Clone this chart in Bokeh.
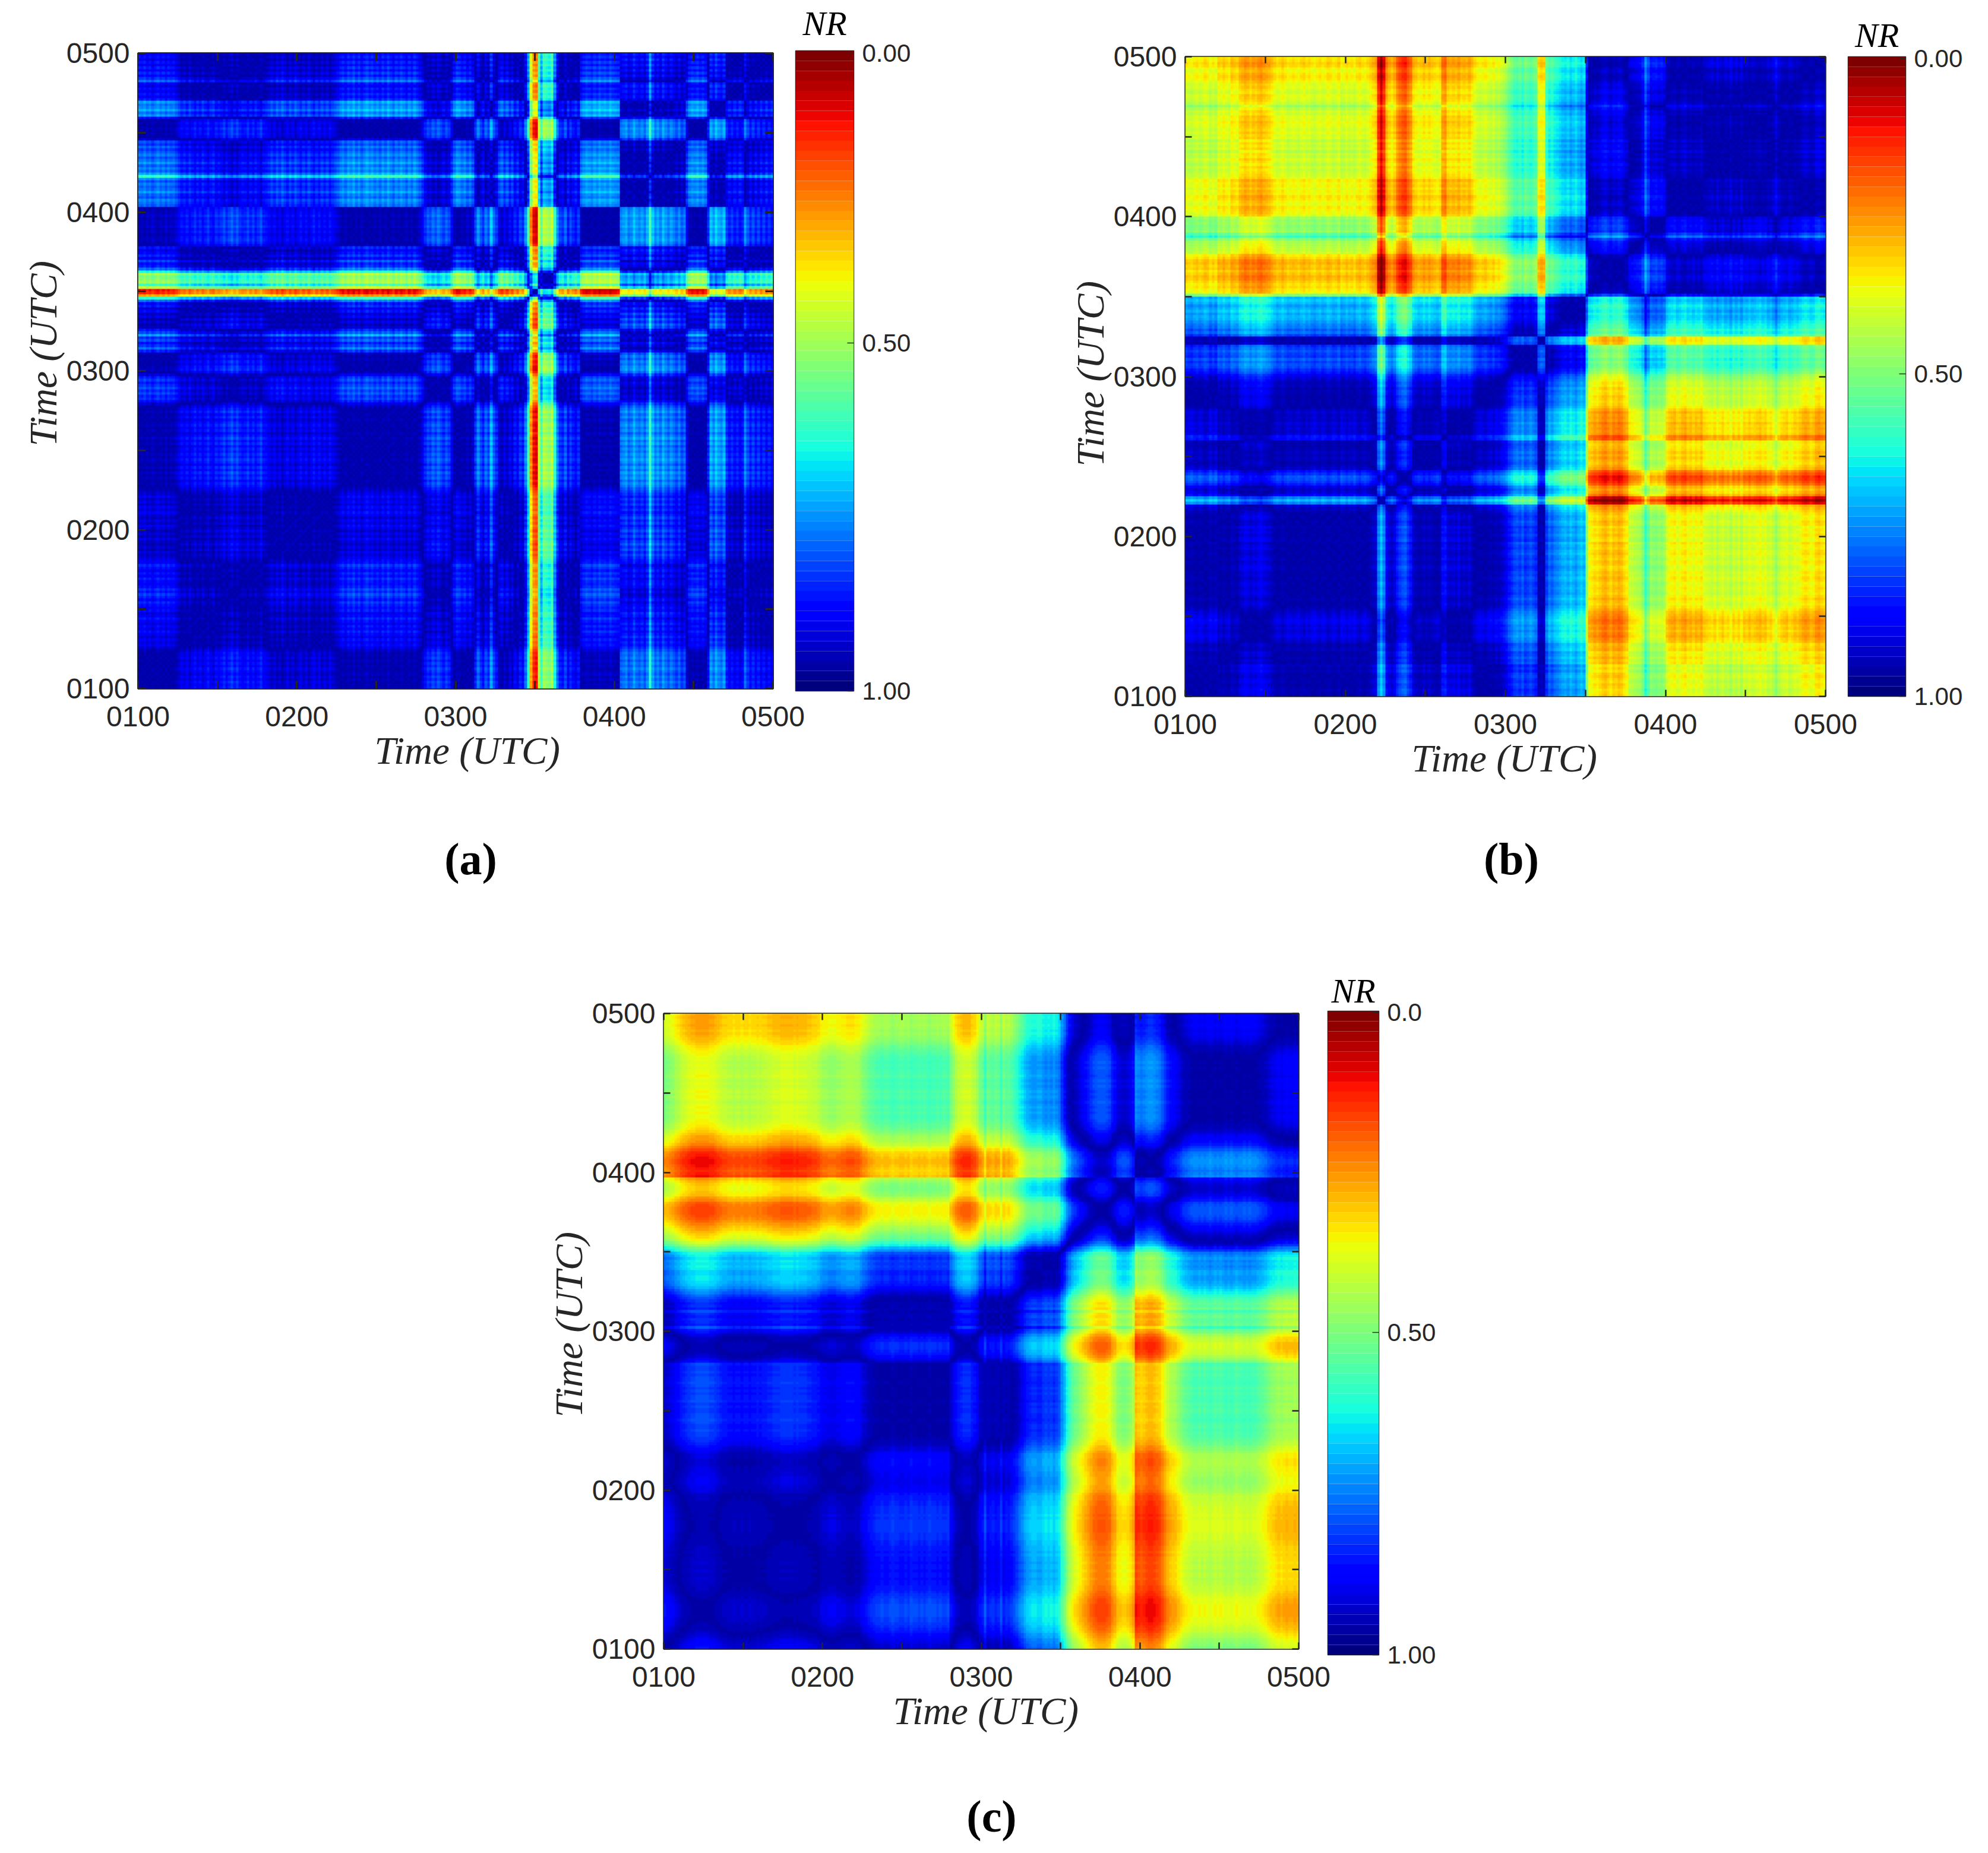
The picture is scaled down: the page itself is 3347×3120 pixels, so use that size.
import numpy as np
from bokeh.embed import file_html
from bokeh.resources import INLINE
from bokeh.plotting import figure
from bokeh.layouts import column, row
from bokeh.models import (LinearAxis, FixedTicker, LinearColorMapper, Label, Range1d, Title)

# Hour labels and half-hour ticks, in minutes of the day
hour_ticks = [60, 120, 180, 240, 300]
half_ticks = [90, 150, 210, 270]
hour_labels = ["0100", "0200", "0300", "0400", "0500"]

# Per-minute state values:
# a map cell's colour position is the distance between the states of its row and column.
state_a = [
 .05,.06,.04,.07,.05,.08,.06,.04,.07,.05, .08,.05,.07,.06,.09,.12,.15,.13,.16,.12,
 .15,.18,.14,.17,.13,.16,.19,.15,.13,.18, .16,.18,.21,.17,.20,.23,.19,.22,.18,.16,
 .17,.20,.16,.19,.15,.18,.21,.16,.15,.13, .10,.13,.09,.12,.08,.11,.14,.10,.13,.09,
 .12,.15,.11,.14,.10,.13,.16,.12,.15,.11, .14,.11,.15,.12,.10,.08,.05,.03,.06,.02,
 .04,.01,.05,.02,.06,.03,.01,.04,.02,.05, .03,.06,.02,.05,.01,.04,.07,.03,.05,.02,
 .04,.07,.03,.06,.02,.05,.08,.12,.18,.22, .20,.24,.21,.25,.22,.19,.23,.20,.13,.06,
 .02,.03,.06,.04,.08,.05,.09,.20,.28,.22, .18,.25,.21,.33,.24,.19,.10,.07,.12,.08,
 .14,.10,.17,.13,.20,.17,.28,.44,.75,.88, .90,.60,.46,.57,.55,.53,.58,.42,.28,.20,
 .18,.24,.15,.21,.17,.14,.19,.06,.03,.01, .02,.04,.01,.03,.00,.02,.01,.03,.00,.02,
 .03,.04,.26,.28,.30,.25,.27,.32,.28,.26, .29,.25,.31,.44,.33,.27,.30,.26,.32,.28,
 .25,.29,.26,.23,.27,.22,.25,.12,.05,.03, .04,.02,.05,.03,.06,.18,.32,.28,.34,.30,
 .28,.32,.20,.16,.19,.15,.18,.14,.17,.28, .22,.17,.21,.16,.20,.15,.19,.14,.18,.15,
]
state_b = [
 .05,.06,.07,.05,.04,.06,.05,.03,.04,.07, .05,.07,.02,.03,.01,.03,.04,.00,.01,.02,
 -.02,-.03,-.05,-.04,-.02,-.04,-.03,-.05,-.06,-.04, -.03,-.02,.00,.02,.04,.03,.01,.03,.05,.04,
 .03,.04,.05,.03,.02,.04,.03,.05,.06,.04, .03,.05,.04,.02,.03,.05,.04,.02,.06,.05,
 .03,.05,.04,.06,.03,.02,.04,.05,.03,.01, -.01,-.03,-.20,-.26,-.20,-.07,-.03,-.01,-.04,-.10,
 -.13,-.15,-.16,-.12,-.09,-.02,.00,.02,.01,-.01, .01,-.01,.01,.02,.03,.01,-.08,-.09,-.03,-.02,
 -.03,-.02,-.04,-.01,-.02,-.01,-.03,.00,.03,.05, .06,.05,.04,.06,.07,.05,.08,.07,.09,.11,
 .13,.17,.19,.22,.23,.21,.24,.20,.21,.23, .21,.19,.03,.01,.02,.21,.26,.24,.27,.28,
 .30,.32,.33,.31,.34,.32,.30,.33,.35,.33, .52,.65,.66,.68,.67,.69,.71,.72,.70,.68,
 .71,.70,.72,.71,.68,.66,.60,.59,.58,.57, .56,.52,.42,.48,.54,.53,.52,.54,.53,.55,
 .62,.64,.65,.66,.63,.64,.66,.67,.64,.65, .63,.65,.64,.66,.62,.61,.60,.59,.61,.58,
 .60,.62,.59,.60,.57,.61,.59,.61,.58,.62, .61,.63,.61,.62,.63,.64,.62,.63,.60,.61,
 .58,.54,.59,.61,.62,.63,.60,.61,.63,.62, .64,.66,.67,.66,.64,.65,.68,.69,.67,.66,
]
state_c = [
 .13,.12,.11,.10,.08,.07,.05,.04,.03,.02, .01,.01,.00,.00,.00,.00,.00,.01,.01,.02,
 .03,.04,.05,.05,.06,.06,.07,.06,.06,.07, .06,.06,.07,.06,.06,.05,.06,.05,.05,.04,
 .04,.03,.03,.03,.02,.02,.02,.02,.02,.03, .02,.03,.03,.03,.04,.04,.05,.05,.06,.08,
 .09,.09,.10,.10,.10,.09,.09,.08,.08,.07, .07,.07,.08,.08,.10,.12,.13,.15,.16,.17,
 .18,.18,.19,.18,.18,.19,.20,.19,.19,.18, .18,.19,.18,.20,.19,.19,.18,.19,.18,.19,
 .20,.19,.19,.18,.19,.18,.18,.19,.13,.10, .07,.05,.04,.03,.03,.03,.05,.06,.09,.13,
 .15,.21,.15,.16,.17,.15,.16,.20,.15,.17, .16,.18,.20,.22,.25,.27,.30,.32,.33,.34,
 .34,.33,.33,.35,.36,.35,.36,.34,.36,.38, .44,.48,.54,.58,.62,.64,.66,.68,.70,.72,
 .74,.76,.78,.79,.80,.80,.80,.79,.78,.74, .72,.68,.67,.66,.66,.67,.69,.72,.85,.84,
 .83,.84,.85,.86,.86,.85,.84,.83,.80,.77, .74,.72,.71,.70,.68,.66,.64,.63,.62,.61,
 .60,.60,.61,.60,.61,.60,.59,.60,.61,.60, .61,.60,.59,.60,.59,.60,.61,.60,.60,.59,
 .60,.59,.60,.60,.61,.62,.63,.64,.66,.67, .68,.69,.70,.69,.70,.71,.70,.70,.71,.70,
]

bar_ticks_a = {"0.00": 0.004, "0.50": 0.456, "1.00": 1.0}
bar_ticks_b = {"0.00": 0.003, "0.50": 0.496, "1.00": 1.0}
bar_ticks_c = {"0.0": 0.002, "0.50": 0.499, "1.00": 1.0}

INK = "#262626"
SANS = "Liberation Sans"
SERIF = "Liberation Serif"

def jet(n):
    x = np.linspace(0, 1, n)
    r = np.interp(x, [0, .35, .66, .89, 1], [0, 0, 1, 1, .5])
    g = np.interp(x, [0, .125, .375, .64, .91, 1], [0, 0, 1, 1, 0, 0])
    b = np.interp(x, [0, .11, .34, .65, 1], [.5, 1, 1, 0, 0])
    return ["#%02x%02x%02x" % (int(a*255), int(c*255), int(d*255)) for a, c, d in zip(r, g, b)]

JET = jet(64)

def nr_matrix(state):
    s = np.array(state, dtype=float)
    d = np.abs(s[:, None] - s[None, :])
    return np.clip(1 - np.sqrt(0.045 ** 2 + (1.05 * d) ** 2), 0, 1)

def panel(state, frame_w, frame_h, top, left, right, bottom, lw, tick, lift, x_off, y_off):
    p = figure(frame_width=frame_w, frame_height=frame_h, min_border_left=left, min_border_right=right,
               min_border_top=top, min_border_bottom=bottom, output_backend="svg", toolbar_location=None,
               x_range=Range1d(60, 300), y_range=Range1d(60, 300))
    p.width = frame_w + left + right
    p.height = frame_h + top + bottom
    p.margin = (-lift, 0, 0, 0)
    mapper = LinearColorMapper(palette=JET[::-1], low=0, high=1)
    p.image(image=[nr_matrix(state)], x=60, y=60, dw=240, dh=240, color_mapper=mapper)
    p.grid.visible = False
    p.outline_line_color = INK
    p.outline_line_width = lw
    p.add_layout(LinearAxis(), "above")
    p.add_layout(LinearAxis(), "right")
    for ax in p.axis:
        ax.ticker = FixedTicker(ticks=hour_ticks, minor_ticks=half_ticks)
        ax.major_label_overrides = dict(zip(hour_ticks, hour_labels))
        ax.major_tick_in = tick; ax.major_tick_out = 0
        ax.minor_tick_in = tick; ax.minor_tick_out = 0
        ax.major_tick_line_color = INK; ax.minor_tick_line_color = INK
        ax.major_tick_line_width = lw; ax.minor_tick_line_width = lw
        ax.axis_line_color = None
        ax.major_label_text_font = SANS
        ax.major_label_text_font_size = "48px"
        ax.major_label_text_color = INK
    for ax in list(p.above) + list(p.right):
        ax.major_label_text_font_size = "0px"
        ax.major_label_text_color = None
        ax.major_label_standoff = 0
    p.below[0].major_label_standoff = 30
    p.left[0].major_label_standoff = 14
    p.left[0].major_label_orientation = "horizontal"
    for where, off in (("below", x_off), ("left", y_off)):
        p.add_layout(Title(text="Time (UTC)", align="left", offset=off, standoff=0, text_font=SERIF,
                           text_font_style="italic", text_font_size="65px", text_color=INK), where)
    return p

def colour_bar(ticks, frame_w, frame_h, top, right, bottom, name_gap, overlap, lift):
    p = figure(frame_width=frame_w, frame_height=frame_h, min_border_left=2, min_border_right=right,
               min_border_top=top, min_border_bottom=bottom, output_backend="svg", toolbar_location=None,
               x_range=Range1d(0, 1), y_range=Range1d(1, 0), x_axis_location=None, y_axis_location="right",
               title="NR")
    p.width = frame_w + 2 + right
    p.height = frame_h + top + bottom
    p.margin = (-lift, 0, 0, -(overlap + 2))
    p.border_fill_color = None
    p.background_fill_color = None
    n = len(JET)
    edges = np.arange(n + 1) / n
    p.quad(left=0, right=1, top=edges[:-1], bottom=edges[1:], fill_color=JET[::-1], line_color=None)
    p.grid.visible = False
    p.outline_line_color = INK
    p.outline_line_width = 1.5
    p.title.align = "center"
    p.title.text_font = SERIF
    p.title.text_font_style = "italic"
    p.title.text_font_size = "58px"
    p.title.text_color = "#000000"
    p.title.standoff = name_gap
    ax = p.yaxis[0]
    pos = list(ticks.values())
    ax.ticker = FixedTicker(ticks=pos)
    ax.major_label_overrides = {v: k for k, v in ticks.items()}
    ax.major_tick_in = 11; ax.major_tick_out = 0
    ax.minor_tick_in = 0; ax.minor_tick_out = 0
    ax.major_tick_line_color = INK; ax.major_tick_line_width = 1.5
    ax.axis_line_color = None
    ax.major_label_text_font = SANS
    ax.major_label_text_font_size = "42px"
    ax.major_label_text_color = INK
    ax.major_label_standoff = 14
    return p

def caption_strip(width, height, items):
    p = figure(width=width, height=height, output_backend="svg", toolbar_location=None,
               x_range=Range1d(0, width), y_range=Range1d(0, height), x_axis_location=None, y_axis_location=None,
               min_border=0)
    p.grid.visible = False
    p.outline_line_color = None
    for x, y, t in items:
        p.add_layout(Label(x=x, y=y, text=t, text_font=SERIF, text_font_style="bold", text_font_size="76px",
                           text_color="#000000", text_align="center", text_baseline="middle"))
    return p

fig_a = panel(state_a, 1069, 1070, 95, 232, 60, 155, 3, 13, 6, 398, 408)
bar_a = colour_bar(bar_ticks_a, 98, 1078, 95, 130, 147, 27, 22, 10)
fig_b = panel(state_b, 1078, 1077, 95, 428, 60, 148, 2.5, 11, 0, 381, 387)
bar_b = colour_bar(bar_ticks_b, 97, 1077, 95, 130, 148, 7, 22, 0)
row1 = row(fig_a, bar_a, fig_b, bar_b, spacing=0)

strip1 = caption_strip(3340, 240, [(792, 240 - (1445 - 1320), "(a)"), (2544, 240 - (1445 - 1320), "(b)")])

fig_c = panel(state_c, 1069, 1070, 146, 1117, 60, 164, 2.5, 11, 0, 386, 390)
bar_c = colour_bar(bar_ticks_c, 86, 1084, 146, 130, 150, 4, 11, 4)
row2 = row(fig_c, bar_c, spacing=0)

strip2 = caption_strip(3340, 170, [(1669, 170 - (3057 - 2940), "(c)")])

page = column(row1, strip1, row2, strip2, spacing=0)
open("out.html", "w").write(file_html(page, INLINE))
